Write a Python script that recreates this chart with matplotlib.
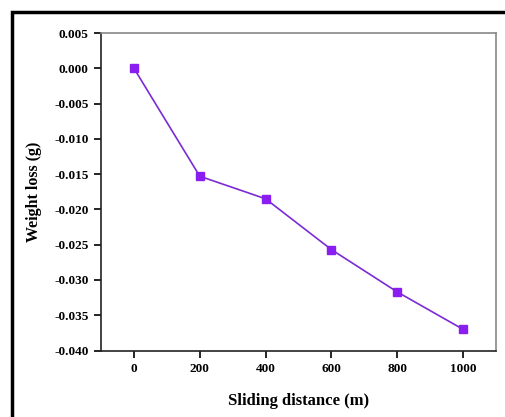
import matplotlib.pyplot as plt
from matplotlib.patches import Rectangle

distance = [0, 200, 400, 600, 800, 1000]
weight_loss = [0.0, -0.0153, -0.0185, -0.0257, -0.0317, -0.0370]
yticks = [0.005, 0.000, -0.005, -0.010, -0.015, -0.020, -0.025, -0.030, -0.035, -0.040]

plt.rcParams['font.family'] = ['Liberation Serif', 'DejaVu Serif']
plt.rcParams['font.weight'] = 'bold'

fig = plt.figure(figsize=(5.05, 4.17), dpi=100)
ax = fig.add_axes([101 / 505, 1 - 350.5 / 417, 395 / 505, 317.5 / 417])

ax.plot(distance, weight_loss, color='#7B2BD4', lw=1.2, marker='s', ms=5.5,
        markerfacecolor='#8A1EF0', markeredgecolor='#8A1EF0')

ax.set_xlim(-100, 1100)
ax.set_ylim(-0.040, 0.005)
ax.set_xticks(distance)
ax.set_yticks(yticks)
ax.set_yticklabels([f'{v:.3f}' for v in yticks])
ax.tick_params(axis='both', direction='out', length=5, width=1.2, labelsize=9.5, pad=4)
ax.tick_params(top=False, right=False)
for lab in ax.get_xticklabels() + ax.get_yticklabels():
    lab.set_fontweight('bold')

for s in ['left', 'bottom']:
    ax.spines[s].set_linewidth(1.2)
    ax.spines[s].set_color('#222222')
for s in ['top', 'right']:
    ax.spines[s].set_linewidth(1.2)
    ax.spines[s].set_color('#888888')

ax.set_xlabel('Sliding distance (m)', fontsize=12, fontweight='bold', labelpad=13)
ax.set_ylabel('Weight loss (g)', fontsize=11.5, fontweight='bold', labelpad=9)

# black frame around the picture (cut off at right and bottom)
fig.patches.append(Rectangle((12 / 505, -0.1), 1.2, 1 - 12 / 417 + 0.1,
                             transform=fig.transFigure, fill=False,
                             edgecolor='black', lw=2.5))

fig.savefig('out.png', dpi=100)
